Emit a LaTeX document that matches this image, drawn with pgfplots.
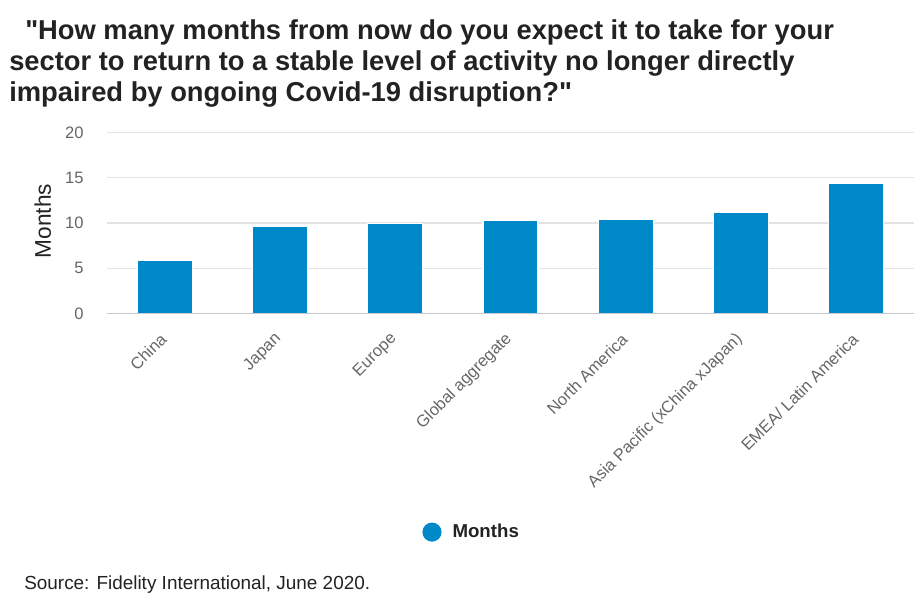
\documentclass[border=0pt]{standalone}
\usepackage{pgfplots}
\pgfplotsset{compat=1.18}
\usepackage{fontspec}
\setmainfont{Liberation Sans}
\newfontfamily\titlefont{Liberation Sans}

\definecolor{barblue}{HTML}{0089C9}
\definecolor{gridgrey}{HTML}{E2E3E7}
\definecolor{axisgrey}{HTML}{C6CAD0}
\definecolor{ticktext}{HTML}{666666}
\definecolor{titletext}{HTML}{222222}

\begin{document}
\begin{tikzpicture}
% page frame: 922x614 px at 0.75pt per px
\useasboundingbox (0pt,0pt) rectangle (691.5pt,-460.5pt);

\node[anchor=base west, inner sep=0pt, font=\titlefont\fontsize{20.5}{24}\selectfont\bfseries, text=titletext]
  at (18.75pt,-29.3pt) {"How many months from now do you expect it to take for your};
\node[anchor=base west, inner sep=0pt, font=\titlefont\fontsize{20.5}{24}\selectfont\bfseries, text=titletext]
  at (6.75pt,-52.6pt) {sector to return to a stable level of activity no longer directly};
\node[anchor=base west, inner sep=0pt, font=\titlefont\fontsize{20.5}{24}\selectfont\bfseries, text=titletext]
  at (6.75pt,-76pt) {impaired by ongoing Covid-19 disruption?"};

\begin{axis}[
  at={(80.25pt,-235pt)}, anchor=south west,
  scale only axis,
  width=605.25pt, height=135.5pt,
  ybar, bar width=41.25pt,
  xmin=-0.5, xmax=6.5,
  ymin=0, ymax=20,
  ytick={0,5,10,15,20},
  xtick=data,
  xticklabels={China,Japan,Europe,Global aggregate,North America,Asia Pacific (xChina xJapan),EMEA/ Latin America},
  major tick length=0pt,
  axis line style={draw=none},
  axis x line*=bottom,
  axis y line*=left,
  ymajorgrids,
  grid style={gridgrey, line width=0.9pt},
  tick label style={text=ticktext, font=\fontsize{12.4}{14}\selectfont},
  /pgf/number format/assume math mode=true,
  yticklabel style={anchor=east, xshift=-14pt},
  xticklabel style={rotate=45, anchor=east, xshift=-9.5pt, yshift=-11.7pt},
  legend style={at={(0.4523,-1.211)}, anchor=center, draw=none, fill=none,
    font=\fontsize{14}{16}\selectfont\bfseries, text=titletext,
    legend cell align=left},
  legend image code/.code={\fill[barblue] (0pt,0pt) circle (6.75pt); \path (13pt,0pt);},
  clip=false,
]
\addplot[fill=barblue, draw=white, line width=0.8pt] coordinates {
  (0,5.9) (1,9.6) (2,9.9) (3,10.25) (4,10.4) (5,11.2) (6,14.4)
};
\addlegendentry{Months}
\draw[axisgrey, line width=1.2pt] (axis cs:-0.5,0) -- (axis cs:6.5,0);
\end{axis}

\node[rotate=90, anchor=center, font=\fontsize{17}{19}\selectfont, text=titletext]
  at (32pt,-165.75pt) {Months};

\node[anchor=base west, inner sep=0pt, font=\fontsize{14.2}{16}\selectfont, text=titletext]
  at (18pt,-441.75pt) {Source: Fidelity International, June 2020.};
\end{tikzpicture}
\end{document}
